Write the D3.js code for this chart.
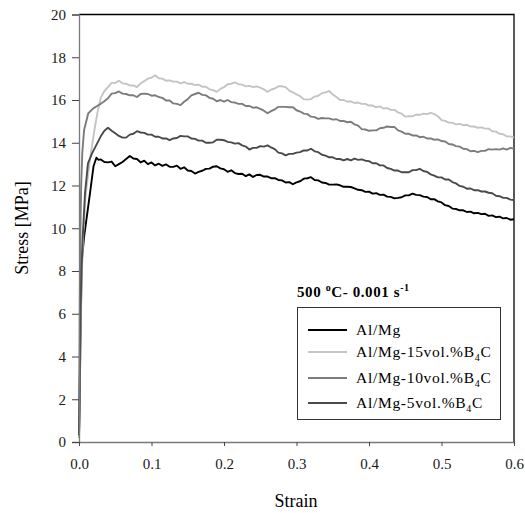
<!DOCTYPE html>
<html>
<head>
<meta charset="utf-8">
<script src="https://cdn.jsdelivr.net/npm/d3@7"></script>
<style>
  body { margin: 0; background: #fff; }
  text { font-family: "Liberation Serif", "Times New Roman", serif; }
</style>
</head>
<body>
<script>
//panel size
var w = 525, h = 513;

//series names and colours
var seriesNames = ["Al/Mg", "Al/Mg-15vol.%B4C", "Al/Mg-10vol.%B4C", "Al/Mg-5vol.%B4C"];
var seriesColors = ["#000000", "#c4c4c4", "#7c7c7c", "#4a4a4a"];

//initial elastic rise, [strain, stress]
var riseAlMg = [[0,0.2],[0.0007,1.5],[0.0015,3.5],[0.0025,6],[0.004,8.5],[0.007,9.6],[0.0106,10.5],[0.015,11.6],[0.02,12.9],[0.024,13.3],[0.027,13.2]];
var rise15 = [[0,0.2],[0.001,2.5],[0.002,5],[0.004,8],[0.006,9.8],[0.009,11.5],[0.015,13.2],[0.022,14.75],[0.026,15.5]];
var rise10 = [[0,0.5],[0.0005,3],[0.0012,7],[0.002,10],[0.003,12],[0.0045,13.5],[0.007,14.6],[0.0128,15.38],[0.0197,15.61],[0.025,15.72]];
var rise5 = [[0,0.3],[0.0008,2],[0.0015,4.5],[0.003,7.5],[0.005,9.5],[0.0083,11.65],[0.0124,13.04],[0.018,13.5],[0.024,13.9],[0.027,14.1]];

//strain readings after the rise
var strainGrid = [0.030,0.035,0.040,0.045,0.050,0.055,0.060,0.065,0.070,0.075,0.080,0.085,0.090,0.095,0.100,0.105,0.110,0.115,0.120,0.125,
  0.130,0.135,0.140,0.145,0.150,0.155,0.160,0.165,0.170,0.175,0.180,0.185,0.190,0.195,0.200,0.205,0.210,0.215,0.220,0.225,
  0.230,0.235,0.240,0.245,0.250,0.255,0.260,0.265,0.270,0.275,0.280,0.285,0.290,0.295,0.300,0.305,0.310,0.315,0.320,0.325,
  0.330,0.335,0.340,0.345,0.350,0.355,0.360,0.365,0.370,0.375,0.380,0.385,0.390,0.395,0.400,0.405,0.410,0.415,0.420,0.425,
  0.430,0.435,0.440,0.445,0.450,0.455,0.460,0.465,0.470,0.475,0.480,0.485,0.490,0.495,0.500,0.505,0.510,0.515,0.520,0.525,
  0.530,0.535,0.540,0.545,0.550,0.555,0.560,0.565,0.570,0.575,0.580,0.585,0.590,0.595,0.600];

var stressAlMg = [13.22,13.10,13.08,13.12,12.90,13.00,13.10,13.24,13.38,13.26,13.24,13.08,13.16,13.00,13.08,12.94,13.02,12.92,12.99,12.88,
  12.87,12.93,12.78,12.85,12.70,12.68,12.56,12.64,12.69,12.78,12.79,12.88,12.90,12.80,12.76,12.64,12.71,12.58,12.54,12.55,
  12.44,12.52,12.40,12.49,12.50,12.42,12.42,12.34,12.34,12.26,12.24,12.14,12.16,12.06,12.15,12.20,12.32,12.34,12.39,12.26,
  12.24,12.14,12.12,12.04,12.04,12.05,12.01,11.94,11.94,11.93,11.87,11.80,11.78,11.70,11.71,11.62,11.64,11.56,11.57,11.48,
  11.47,11.40,11.42,11.45,11.54,11.54,11.62,11.56,11.55,11.48,11.46,11.36,11.36,11.26,11.21,11.08,11.04,10.92,10.90,10.84,
  10.84,10.76,10.78,10.70,10.72,10.66,10.68,10.58,10.60,10.52,10.54,10.46,10.48,10.40,10.42];

var stress15 = [16.10,16.42,16.60,16.80,16.80,16.90,16.78,16.76,16.68,16.68,16.60,16.78,16.88,17.00,17.04,17.16,17.02,17.00,16.90,16.92,
  16.86,16.86,16.78,16.84,16.76,16.76,16.70,16.72,16.62,16.62,16.50,16.46,16.38,16.52,16.60,16.74,16.76,16.82,16.74,16.72,
  16.64,16.66,16.60,16.64,16.58,16.50,16.38,16.48,16.54,16.64,16.64,16.60,16.44,16.36,16.26,16.18,16.04,16.02,16.04,16.16,
  16.20,16.32,16.36,16.42,16.26,16.14,16.00,16.00,15.92,15.94,15.86,15.88,15.82,15.82,15.74,15.74,15.66,15.70,15.60,15.62,
  15.54,15.54,15.42,15.36,15.22,15.24,15.24,15.32,15.30,15.36,15.34,15.40,15.34,15.24,15.06,15.02,14.94,14.94,14.86,14.88,
  14.82,14.84,14.76,14.76,14.70,14.72,14.66,14.66,14.54,14.52,14.42,14.40,14.30,14.30,14.24];

var stress10 = [15.82,15.94,16.08,16.30,16.32,16.40,16.30,16.28,16.22,16.22,16.14,16.28,16.30,16.28,16.20,16.22,16.14,16.10,15.98,15.98,
  15.84,15.82,15.76,15.92,16.04,16.22,16.28,16.34,16.24,16.22,16.10,16.06,15.94,16.00,15.92,16.00,15.90,15.88,15.82,15.82,
  15.72,15.72,15.64,15.66,15.58,15.50,15.38,15.48,15.56,15.68,15.68,15.68,15.66,15.66,15.52,15.46,15.36,15.34,15.22,15.20,
  15.12,15.16,15.14,15.14,15.08,15.10,15.02,15.02,14.96,14.98,14.86,14.80,14.64,14.62,14.56,14.58,14.58,14.68,14.70,14.76,
  14.74,14.74,14.58,14.52,14.42,14.42,14.34,14.34,14.26,14.28,14.20,14.20,14.14,14.16,14.08,14.06,13.94,13.92,13.84,13.82,
  13.72,13.70,13.60,13.62,13.56,13.62,13.62,13.70,13.68,13.70,13.68,13.74,13.68,13.76,13.72];

var stress5 = [14.30,14.56,14.70,14.56,14.44,14.32,14.24,14.24,14.38,14.42,14.54,14.48,14.46,14.38,14.38,14.28,14.28,14.20,14.20,14.12,
  14.20,14.22,14.32,14.30,14.30,14.20,14.18,14.10,14.10,14.00,14.00,14.02,14.14,14.14,14.12,14.04,14.02,13.96,13.98,13.88,
  13.82,13.68,13.76,13.76,13.84,13.82,13.88,13.78,13.70,13.54,13.50,13.41,13.48,13.48,13.54,13.56,13.64,13.64,13.72,13.60,
  13.56,13.44,13.40,13.32,13.32,13.24,13.24,13.18,13.24,13.18,13.26,13.20,13.22,13.16,13.14,13.04,13.04,12.94,12.94,12.82,
  12.78,12.70,12.70,12.62,12.62,12.62,12.72,12.72,12.78,12.68,12.64,12.52,12.46,12.38,12.38,12.28,12.28,12.16,12.10,11.98,
  11.94,11.85,11.86,11.78,11.78,11.72,11.72,11.66,11.64,11.52,11.50,11.42,11.42,11.34,11.32];

//chart frame
var margin = {left: 79, right: 11, top: 14.5, bottom: 71};
var innerW = w - margin.left - margin.right;
var innerH = h - margin.top - margin.bottom;

var yTicks = [0, 2, 4, 6, 8, 10, 12, 14, 16, 18, 20];
var xTicks = [0.0, 0.1, 0.2, 0.3, 0.4, 0.5, 0.6];

window.onload = function(){

    var svg = d3.select("body")
        .append("svg")
        .attr("width", w)
        .attr("height", h)
        .attr("class", "container");

    var x = d3.scaleLinear()
        .domain([0, 0.6])
        .range([margin.left, margin.left + innerW]);

    var y = d3.scaleLinear()
        .domain([0, 20])
        .range([margin.top + innerH, margin.top]);

    //top and right frame lines
    svg.append("path")
        .attr("class", "frame")
        .attr("d", "M" + x(0) + "," + y(20) + "H" + x(0.6) + "V" + y(0))
        .style("fill", "none")
        .style("stroke", "#000")
        .style("stroke-width", 1.3);

    //build the series from the rise + grid readings
    function joinSeries(rise, vals){
        return rise.concat(strainGrid.map(function(s, i){ return [s, vals[i]]; }));
    }
    var series = [
        joinSeries(riseAlMg, stressAlMg),
        joinSeries(rise15, stress15),
        joinSeries(rise10, stress10),
        joinSeries(rise5, stress5)
    ];

    var line = d3.line()
        .x(function(d){ return x(d[0]); })
        .y(function(d){ return y(d[1]); });

    svg.selectAll(".curve")
        .data(series)
        .enter()
        .append("path")
        .attr("class", "curve")
        .attr("d", line)
        .style("fill", "none")
        .style("stroke", function(d, i){ return seriesColors[i]; })
        .style("stroke-width", 1.9)
        .style("stroke-linejoin", "round");

    //axes
    var yAxis = svg.append("g")
        .attr("class", "yaxis")
        .attr("transform", "translate(" + margin.left + ",0)")
        .call(d3.axisLeft(y).tickValues(yTicks).tickSize(7).tickPadding(6).tickFormat(d3.format("d")));

    var xAxis = svg.append("g")
        .attr("class", "xaxis")
        .attr("transform", "translate(0," + (margin.top + innerH) + ")")
        .call(d3.axisBottom(x).tickValues(xTicks).tickSize(4).tickSizeOuter(0).tickPadding(12).tickFormat(d3.format(".1f")));

    svg.selectAll(".yaxis path, .xaxis path")
        .style("stroke", "#7a7a7a")
        .style("stroke-width", 1.3);
    svg.selectAll(".yaxis line, .xaxis line")
        .style("stroke", "#444");
    svg.selectAll(".yaxis text, .xaxis text")
        .style("font-family", "Liberation Serif")
        .style("font-size", "15px")
        .style("fill", "#1a1a1a");

    //axis titles
    svg.append("text")
        .attr("class", "xtitle")
        .attr("x", 296)
        .attr("y", 507)
        .attr("text-anchor", "middle")
        .style("font-size", "18px")
        .text("Strain");

    svg.append("text")
        .attr("class", "ytitle")
        .attr("transform", "translate(28,228) rotate(-90)")
        .attr("text-anchor", "middle")
        .style("font-size", "18px")
        .text("Stress [MPa]");

    //test condition
    var cond = svg.append("text")
        .attr("class", "cond")
        .attr("x", 297)
        .attr("y", 297)
        .style("font-size", "15px")
        .style("font-weight", "bold")
        .style("letter-spacing", "0.6px");
    cond.append("tspan").text("500 ");
    cond.append("tspan").attr("dy", -6).style("font-size", "10px").text("o");
    cond.append("tspan").attr("dy", 6).text("C- 0.001 s");
    cond.append("tspan").attr("dy", -6).style("font-size", "10px").text("-1");

    //legend
    var legend = svg.append("g").attr("class", "legend");
    legend.append("rect")
        .attr("x", 297.5)
        .attr("y", 307.5)
        .attr("width", 203)
        .attr("height", 112)
        .style("fill", "#fff")
        .style("stroke", "#333")
        .style("stroke-width", 1);

    var legendRows = [330, 352, 378, 403];

    var items = legend.selectAll(".legendItem")
        .data(seriesNames)
        .enter()
        .append("g")
        .attr("class", "legendItem")
        .attr("transform", function(d, i){ return "translate(0," + legendRows[i] + ")"; });

    items.append("line")
        .attr("x1", 308)
        .attr("x2", 347)
        .style("stroke", function(d, i){ return seriesColors[i]; })
        .style("stroke-width", 2);

    var labels = items.append("text")
        .attr("x", 356)
        .attr("y", 5)
        .style("font-size", "15.5px")
        .style("letter-spacing", "0.7px");

    labels.each(function(d){
        var t = d3.select(this);
        var idx = d.indexOf("B4C");
        if (idx < 0) { t.text(d); return; }
        t.append("tspan").text(d.slice(0, idx + 1));
        t.append("tspan").attr("dy", 4).style("font-size", "10px").text("4");
        t.append("tspan").attr("dy", -4).text("C");
    });
};
</script>
</body>
</html>
